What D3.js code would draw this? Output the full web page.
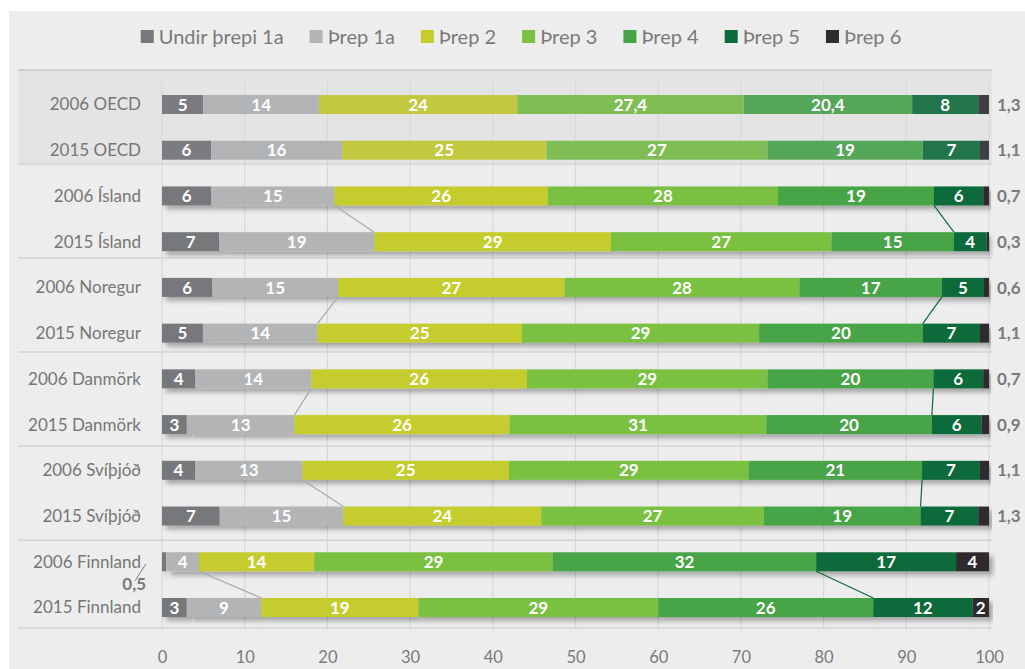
<!DOCTYPE html>
<html>
<head>
<meta charset="utf-8">
<script src="https://cdn.jsdelivr.net/npm/d3@7"></script>
<style>
  body { margin: 0; background: #fff; }
  text { font-family: Lato, "Open Sans", sans-serif; }
</style>
</head>
<body>
<div id="chart"></div>
<script>
// rows, read top to bottom
var rows = ["2006 OECD", "2015 OECD", "2006 Ísland", "2015 Ísland", "2006 Noregur", "2015 Noregur",
            "2006 Danmörk", "2015 Danmörk", "2006 Svíþjóð", "2015 Svíþjóð", "2006 Finnland", "2015 Finnland"];
var levels = ["Undir þrepi 1a", "Þrep 1a", "Þrep 2", "Þrep 3", "Þrep 4", "Þrep 5", "Þrep 6"];

// shares of students per level (%)
var undir1a = [5, 6, 6, 7, 6, 5, 4, 3, 4, 7, 0.5, 3];
var threp1a = [14, 16, 15, 19, 15, 14, 14, 13, 13, 15, 4, 9];
var threp2  = [24, 25, 26, 29, 27, 25, 26, 26, 25, 24, 14, 19];
var threp3  = [27.4, 27, 28, 27, 28, 29, 29, 31, 29, 27, 29, 29];
var threp4  = [20.4, 19, 19, 15, 17, 20, 20, 20, 21, 19, 32, 26];
var threp5  = [8, 7, 6, 4, 5, 7, 6, 6, 7, 7, 17, 12];
var threp6  = [1.3, 1.1, 0.7, 0.3, 0.6, 1.1, 0.7, 0.9, 1.1, 1.3, 4, 2];

var xTicks = [0, 10, 20, 30, 40, 50, 60, 70, 80, 90, 100];

var colors     = ["#77787b", "#b2b4b5", "#c5cd2d", "#7ac143", "#47a447", "#0c6b3a", "#2d2c2e"];
var oecdColors = ["#7b7c80", "#b1b3b4", "#c2c940", "#7fbd55", "#56a65a", "#22744a", "#3e3f44"];

var series = [undir1a, threp1a, threp2, threp3, threp4, threp5, threp6];
var table = rows.map(function(r, i) {
  var o = { row: r };
  levels.forEach(function(k, j) { o[k] = series[j][i]; });
  return o;
});

var width = 1025, height = 669;
var svg = d3.select("#chart").append("svg")
  .attr("width", width).attr("height", height);

var defs = svg.append("defs");
defs.append("filter").attr("id", "shadow")
  .attr("x", "-10%").attr("y", "-40%").attr("width", "130%").attr("height", "200%")
  .append("feDropShadow")
  .attr("dx", 4).attr("dy", 4).attr("stdDeviation", 2.5)
  .attr("flood-color", "#000").attr("flood-opacity", 0.3);

// background
svg.append("rect").attr("x", 9).attr("y", 11).attr("width", width - 9).attr("height", height - 11)
  .attr("fill", "#ededed");

var x = d3.scaleLinear().domain([0, 1]).range([162, 989]);
var y = d3.scalePoint().domain(rows).range([104.5, 607.5]);
var barH = 19;

// group separators
var seps = [];
for (var g = 1; g < 6; g++) seps.push(y(rows[2 * g]) - 32 + 2.6 * (g - 1));
seps.push(y(rows[11]) + 20.5);

// OECD band + top rule
svg.append("rect").attr("x", 18).attr("y", 70).attr("width", 992 - 18).attr("height", seps[0] - 70)
  .attr("fill", "#e4e4e4");
svg.append("line").attr("x1", 18).attr("x2", 992).attr("y1", 70).attr("y2", 70)
  .attr("stroke", "#c8c8c8").attr("stroke-width", 1.5);

// grid
svg.append("g").selectAll("line").data(xTicks).enter().append("line")
  .attr("x1", function(d) { return x(d / 100); })
  .attr("x2", function(d) { return x(d / 100); })
  .attr("y1", 82).attr("y2", 630)
  .attr("stroke", "#d8d8d8").attr("stroke-width", 1.2);

svg.append("g").selectAll("line").data(seps).enter().append("line")
  .attr("x1", 18).attr("x2", 992)
  .attr("y1", function(d) { return d; }).attr("y2", function(d) { return d; })
  .attr("stroke", "#d3d3d3").attr("stroke-width", 1.5);

// x axis
var axis = svg.append("g").attr("transform", "translate(0,648)")
  .call(d3.axisBottom(x).tickValues(xTicks.map(function(t) { return t / 100; }))
    .tickFormat(function(d) { return Math.round(d * 100); }).tickSize(0).tickPadding(3));
axis.select(".domain").remove();
axis.selectAll("text").attr("fill", "#7a7a7a").style("font-size", "16.5px")
  .style("font-family", "Lato, 'Open Sans', sans-serif");

// category labels
svg.append("g").selectAll("text").data(rows).enter().append("text")
  .attr("x", 141).attr("y", function(d) { return y(d); }).attr("dy", "0.35em")
  .attr("text-anchor", "end").attr("fill", "#767676").style("font-size", "17px")
  .text(function(d) { return d; });

// stacked bars
var stack = d3.stack().keys(levels).offset(d3.stackOffsetExpand)(table);
var fmt = function(v) { return String(v).replace(".", ","); };

var layers = svg.append("g").selectAll("g").data(stack).enter().append("g");
layers.selectAll("rect").data(function(s) { return s.map(function(d) { d.si = s.index; return d; }); })
  .enter().append("rect")
  .attr("x", function(d) { return x(d[0]); })
  .attr("width", function(d) { return x(d[1]) - x(d[0]); })
  .attr("y", function(d) { return y(d.data.row) - barH / 2; })
  .attr("height", barH)
  .attr("fill", function(d) { return d.data.row.indexOf("OECD") >= 0 ? oecdColors[d.si] : colors[d.si]; })
  .attr("filter", function(d) { return d.data.row.indexOf("OECD") >= 0 ? null : "url(#shadow)"; });

// labels inside bars
var inside = [];
stack.forEach(function(s, si) {
  s.forEach(function(d, i) {
    var v = table[i][levels[si]];
    if (v >= 2) inside.push({ x: (x(d[0]) + x(d[1])) / 2, row: rows[i], t: fmt(v) });
  });
});
svg.append("g").selectAll("text").data(inside).enter().append("text")
  .attr("x", function(d) { return d.x; }).attr("y", function(d) { return y(d.row); })
  .attr("dy", "0.36em").attr("text-anchor", "middle")
  .attr("fill", "#fff").style("font-size", "17px").style("font-weight", "bold")
  .text(function(d) { return d.t; });

// small Þrep 6 values to the right
svg.append("g").selectAll("text").data(rows.filter(function(r, i) { return threp6[i] < 2; })).enter()
  .append("text")
  .attr("x", x(1) + 8).attr("y", function(d) { return y(d); }).attr("dy", "0.36em")
  .attr("fill", "#7a7a7a").style("font-size", "17px").style("font-weight", "bold")
  .text(function(d) { return fmt(threp6[rows.indexOf(d)]); });

// Finnland 2006 below-1 value, with a leader line
var fin = rows[10];
svg.append("line")
  .attr("x1", x(0) - 16).attr("y1", y(fin) + 2).attr("x2", x(0) - 27).attr("y2", y(fin) + 19)
  .attr("stroke", "#7a7a7a").attr("stroke-width", 1);
svg.append("text").attr("x", x(0) - 16).attr("y", y(fin) + 22).attr("dy", "0.36em")
  .attr("text-anchor", "end").attr("fill", "#7a7a7a")
  .style("font-size", "17px").style("font-weight", "bold")
  .text(fmt(undir1a[10]));

// connector lines between 2006 and 2015 bars
var links = [];
for (var k = 1; k < 6; k++) {
  [[1, "#a7a9ab"], [4, "#0c6b3a"]].forEach(function(p) {
    links.push({
      x1: x(stack[p[0]][2 * k][1]), y1: y(rows[2 * k]) + barH / 2,
      x2: x(stack[p[0]][2 * k + 1][1]), y2: y(rows[2 * k + 1]) - barH / 2,
      c: p[1]
    });
  });
}
svg.append("g").selectAll("line").data(links).enter().append("line")
  .attr("x1", function(d) { return d.x1; }).attr("y1", function(d) { return d.y1; })
  .attr("x2", function(d) { return d.x2; }).attr("y2", function(d) { return d.y2; })
  .attr("stroke", function(d) { return d.c; }).attr("stroke-width", 1.2);

// legend
var legend = svg.append("g").attr("transform", "translate(0,37)");
var items = legend.selectAll("g").data(levels).enter().append("g");
items.append("rect").attr("y", -7).attr("width", 13).attr("height", 13)
  .attr("fill", function(d, i) { return colors[i]; });
items.append("text").attr("x", 18).attr("dy", "0.35em")
  .attr("fill", "#7a7a7a").style("font-size", "20px")
  .text(function(d) { return d; });
var pos = 0;
items.each(function() {
  d3.select(this).attr("transform", "translate(" + pos + ",0)");
  pos += 18 + this.querySelector("text").getComputedTextLength() + 26;
});
var total = pos - 26;
legend.attr("transform", "translate(" + (521 - total / 2) + ",37)");
</script>
</body>
</html>
